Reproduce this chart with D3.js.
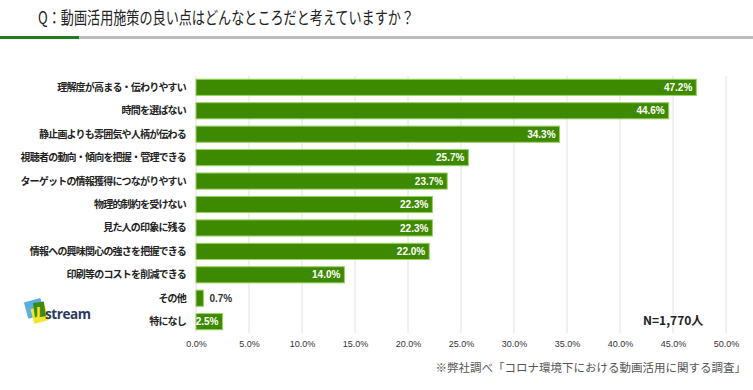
<!DOCTYPE html>
<html><head><meta charset="utf-8">
<script src="https://cdn.jsdelivr.net/npm/d3@7"></script>
<style>
body{margin:0;background:#fff;}
svg{display:block;font-family:"Noto Sans CJK JP","Noto Sans",sans-serif;}
</style></head>
<body>
<script>
const categories = ["理解度が高まる・伝わりやすい","時間を選ばない","静止画よりも雰囲気や人柄が伝わる","視聴者の動向・傾向を把握・管理できる","ターゲットの情報獲得につながりやすい","物理的制約を受けない","見た人の印象に残る","情報への興味関心の強さを把握できる","印刷等のコストを削減できる","その他","特になし"];
const values = [47.2,44.6,34.3,25.7,23.7,22.3,22.3,22.0,14.0,0.7,2.5];
const tickValues = [0,5,10,15,20,25,30,35,40,45,50];
const title = "Q：動画活用施策の良い点はどんなところだと考えていますか？";
const nLabel = "N=1,770人";
const source = "※弊社調べ「コロナ環境下における動画活用に関する調査」";

const W=753,H=390;
const svg=d3.select("body").append("svg").attr("width",W).attr("height",H);

// title
svg.append("text").attr("x",38).attr("y",24).attr("font-size",17).attr("fill","#222")
 .attr("textLength",376).attr("lengthAdjust","spacingAndGlyphs").text(title);
svg.append("rect").attr("x",78).attr("y",36).attr("width",W-78).attr("height",3).attr("fill","#bdbdbd");
svg.append("rect").attr("x",0).attr("y",36).attr("width",79).attr("height",3).attr("fill","#237a23");

const x=d3.scaleLinear().domain([0,50]).range([196,726]);
const y=d3.scaleBand().domain(categories).range([75.5,333.5]).paddingInner(0.31).paddingOuter(0.16);

// grid
svg.append("g").selectAll("line").data(tickValues).join("line")
 .attr("x1",d=>x(d)).attr("x2",d=>x(d)).attr("y1",76).attr("y2",333)
 .attr("stroke","#e2e2e2").attr("stroke-width",1);

// axis
const ax=svg.append("g").attr("transform","translate(0,333)")
 .call(d3.axisBottom(x).tickValues(tickValues).tickFormat(d=>d.toFixed(1)+"%").tickSize(0).tickPadding(8));
ax.select(".domain").remove();
ax.selectAll("text").attr("font-size",9).attr("fill","#333").attr("font-family","'Liberation Sans',Arial,sans-serif");

// category labels
svg.append("g").selectAll("text").data(categories).join("text")
 .attr("x",186).attr("y",d=>y(d)+y.bandwidth()/2).attr("dy","0.35em")
 .attr("text-anchor","end").attr("font-size",10).attr("letter-spacing","-0.8").attr("font-weight","bold").attr("fill","#222").text(d=>d);

// bars
const data=categories.map((c,i)=>({c,v:values[i]}));
svg.append("g").selectAll("rect").data(data).join("rect")
 .attr("x",x(0)).attr("y",d=>y(d.c)).attr("width",d=>x(d.v)-x(0)).attr("height",y.bandwidth())
 .attr("fill","#3d8a00").attr("stroke","#9bd25f").attr("stroke-width",1);

// value labels
svg.append("g").selectAll("text").data(data).join("text")
 .attr("x",d=>d.v<2?x(d.v)+6:x(d.v)-4)
 .attr("y",d=>y(d.c)+y.bandwidth()/2).attr("dy","0.36em")
 .attr("text-anchor",d=>d.v<2?"start":"end")
 .attr("font-size",10).attr("font-weight","bold")
 .attr("font-family","'Liberation Sans',Arial,sans-serif")
 .attr("fill",d=>d.v<2?"#333":"#fff").text(d=>d.v.toFixed(1)+"%");

// N label
svg.append("text").attr("x",643).attr("y",325).attr("font-size",12).attr("font-weight","bold").attr("fill","#222").text(nLabel);

// source
svg.append("text").attr("x",746).attr("y",372).attr("text-anchor","end").attr("font-size",11.5).attr("fill","#555").text(source);

// logo
const lg=svg.append("g");
lg.append("rect").attr("x",26).attr("y",300).attr("width",17).attr("height",17).attr("fill","#5aaee6").attr("transform","rotate(-15,34,309)");
lg.append("rect").attr("x",32).attr("y",307).attr("width",15).attr("height",15).attr("fill","#f5e42a").attr("transform","rotate(-15,40,314)");
lg.append("rect").attr("x",34).attr("y",302).attr("width",11).attr("height",15).attr("fill","#3f8a10").attr("transform","rotate(-8,40,310)");
lg.append("text").attr("x",36).attr("y",316).attr("font-size",13).attr("font-weight","bold").attr("fill","#f5e42a").attr("font-family","'DejaVu Sans',sans-serif").text("J");
lg.append("text").attr("x",45).attr("y",319).attr("font-size",13.5).attr("font-weight","bold").attr("fill","#2b3b5c").attr("font-family","'Open Sans','DejaVu Sans',sans-serif").attr("letter-spacing","-0.4").text("stream");
</script>
</body></html>
